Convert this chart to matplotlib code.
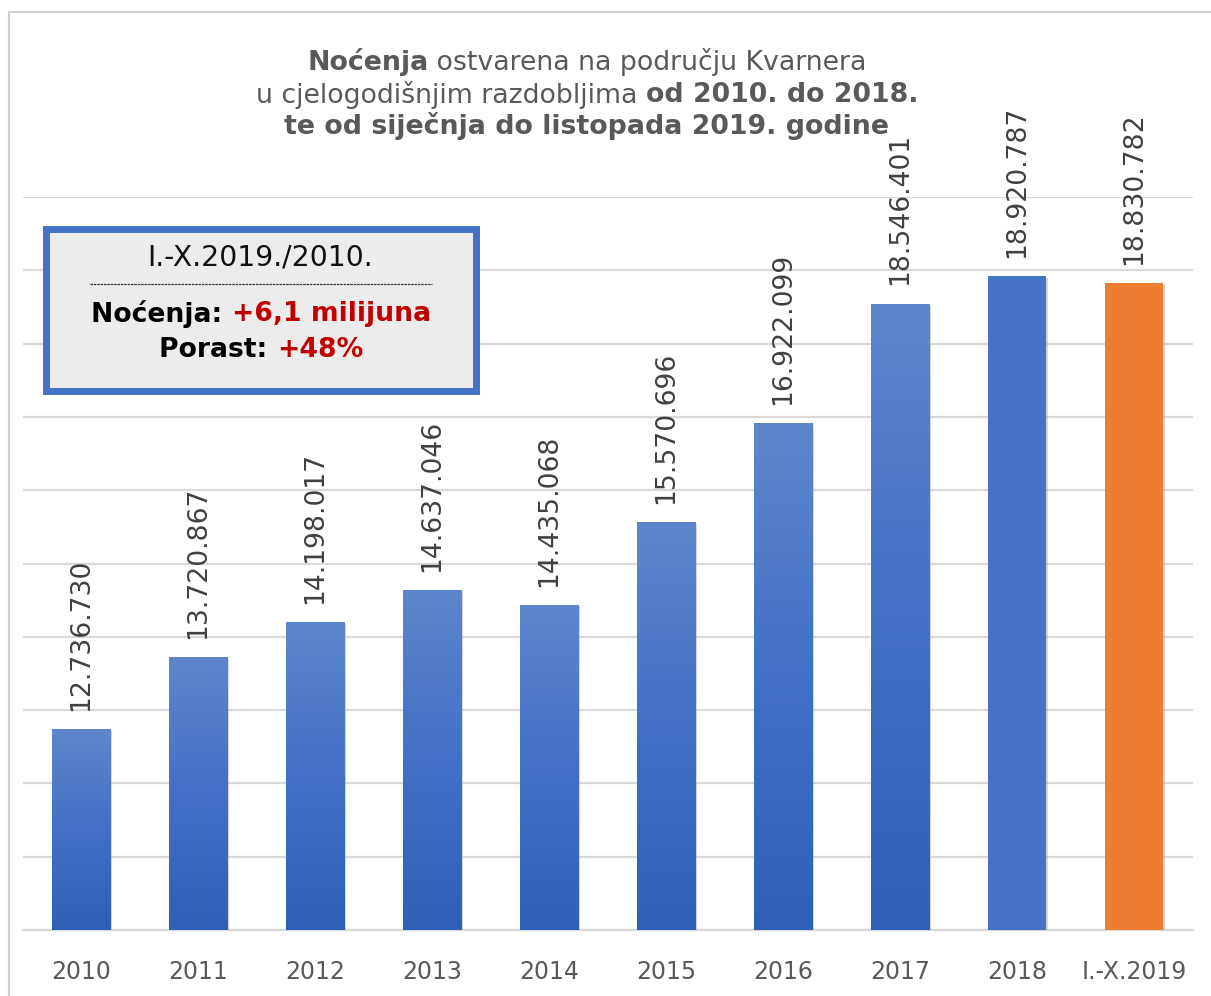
import numpy as np
import matplotlib
matplotlib.use("Agg")
import matplotlib.pyplot as plt
from matplotlib.patches import Rectangle
from matplotlib.colors import LinearSegmentedColormap
from matplotlib.ticker import MultipleLocator
import matplotlib.patheffects as pe

categories = ["2010", "2011", "2012", "2013", "2014", "2015", "2016", "2017", "2018", "I.-X.2019"]
values = [12736730, 13720867, 14198017, 14637046, 14435068, 15570696, 16922099, 18546401, 18920787, 18830782]
labels = ["12.736.730", "13.720.867", "14.198.017", "14.637.046", "14.435.068",
          "15.570.696", "16.922.099", "18.546.401", "18.920.787", "18.830.782"]

W, H = 1211, 996
fig = plt.figure(figsize=(W / 100, H / 100), dpi=100)
plt.rcParams['font.family'] = ['DejaVu Sans']

def fx(x):
    return x / W

def fy(y):
    return 1 - y / H

# outer frame: only left and top edges are visible
fig.add_artist(plt.Line2D([fx(9), fx(9), fx(1211)], [fy(996), fy(12), fy(12)],
                          transform=fig.transFigure, color="#d0d0d0", lw=1.6))

ax = fig.add_axes([fx(22.5), fy(930), fx(1192.5) - fx(22.5), fy(197) - fy(930)])
ax.set_xlim(-0.5, 9.5)
ax.set_ylim(10_000_000, 20_000_000)
ax.yaxis.set_major_locator(MultipleLocator(1_000_000))
ax.grid(axis="y", color="#d9d9d9", lw=1.6)
ax.set_axisbelow(True)
for s in ["left", "right", "top"]:
    ax.spines[s].set_visible(False)
ax.spines["bottom"].set_color("#d9d9d9")
ax.spines["bottom"].set_linewidth(1.6)
ax.tick_params(axis="y", left=False, labelleft=False)
ax.tick_params(axis="x", bottom=False, labelsize=17, labelcolor="#595959", pad=18)

x = np.arange(len(categories))
colors = ["none"] * 8 + ["#4472c4", "#ed7d31"]
bars = ax.bar(x, values, width=0.5, color=colors, zorder=3,
              path_effects=[pe.SimplePatchShadow(offset=(1.5, -1.5), shadow_rgbFace="#999999", alpha=0.4), pe.Normal()])
ax.set_xticks(x)
ax.set_xticklabels(categories)

cmap = LinearSegmentedColormap.from_list("g", ["#2e60b8", "#4170c6", "#5e86cc"])
grad = np.linspace(0, 1, 256).reshape(-1, 1)
for i in range(8):
    b = bars[i]
    x0, y0 = b.get_x(), b.get_y()
    w, h = b.get_width(), b.get_height()
    im = ax.imshow(grad, extent=[x0, x0 + w, 10_000_000, y0 + h], origin="lower",
                   cmap=cmap, aspect="auto", zorder=3.5)
    im.set_clip_path(b)
ax.set_xlim(-0.5, 9.5)
ax.set_ylim(10_000_000, 20_000_000)

for xi, v, lab in zip(x, values, labels):
    ax.annotate(lab, (xi, v), xytext=(0, 13), textcoords="offset points",
                rotation=90, ha="center", va="bottom", fontsize=19.2,
                color="#404040", annotation_clip=False, zorder=5)

# text lines with mixed weights / colours
def draw_line(segments, cx, cy, size):
    r = fig.canvas.get_renderer()
    widths = []
    texts = []
    for s, bold, color in segments:
        t = fig.text(0, 0, s, fontsize=size, fontweight="bold" if bold else "normal",
                     color=color, zorder=11)
        widths.append(t.get_window_extent(renderer=r).width)
        texts.append(t)
    total = sum(widths)
    xpos = cx - total / 2
    for t, w in zip(texts, widths):
        t.set_position((fx(xpos), fy(cy)))
        t.set_va("center")
        t.set_ha("left")
        xpos += w

tc = "#595959"
draw_line([("Noćenja", True, tc), (" ostvarena na području Kvarnera", False, tc)], 587, 62, 19.3)
draw_line([("u cjelogodišnjim razdobljima ", False, tc), ("od 2010. do 2018.", True, tc)], 587, 95, 19.3)
draw_line([("te od siječnja do listopada 2019. godine", True, tc)], 587, 126, 19.3)

# info box
fig.add_artist(Rectangle((fx(45.5), fy(391.5)), fx(476.5) - fx(45.5), fy(229.5) - fy(391.5),
                         transform=fig.transFigure, facecolor="#ececec", edgecolor="#4472c4", lw=5, zorder=10))
fig.text(fx(260), fy(257), "I.-X.2019./2010.", fontsize=20.3, color="#111111",
         ha="center", va="center", zorder=11)
fig.add_artist(plt.Line2D([fx(90), fx(432)], [fy(284), fy(284)], transform=fig.transFigure,
                          color="#333333", lw=0.9, linestyle=(0, (2.0, 0.7)), zorder=11))
draw_line([("Noćenja: ", True, "#000000"), ("+6,1 milijuna", True, "#c00000")], 261, 314, 19.2)
draw_line([("Porast: ", True, "#000000"), ("+48%", True, "#c00000")], 261, 350, 19.2)

fig.savefig("out.png", dpi=100)
